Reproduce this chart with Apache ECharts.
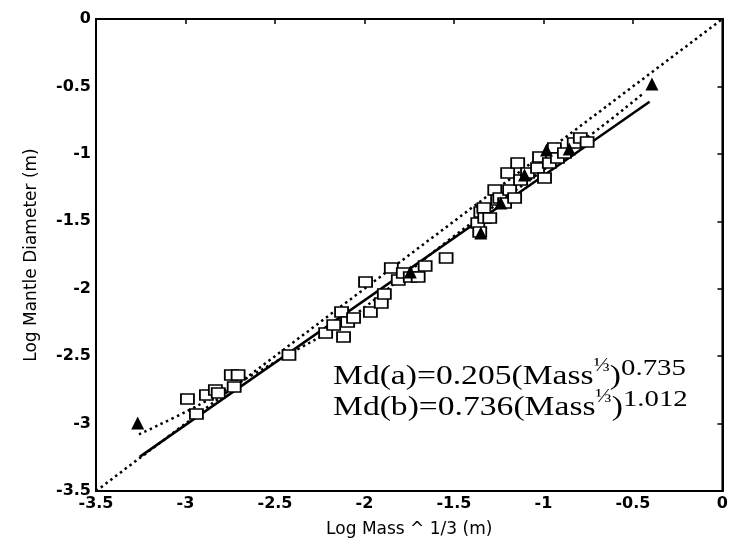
<!DOCTYPE html>
<html>
<head>
<meta charset="utf-8">
<script src="https://cdn.jsdelivr.net/npm/echarts@6/dist/echarts.min.js"></script>
<style>
  html, body { margin: 0; padding: 0; background: #fff; }
  #chart { width: 731px; height: 546px; }
</style>
</head>
<body>
<div id="chart"></div>
<script>
// Log mass^(1/3) vs log mantle diameter
const squares = [
  [-2.989, -2.818], [-2.939, -2.929], [-2.883, -2.788], [-2.833, -2.751],
  [-2.817, -2.773], [-2.744, -2.640], [-2.706, -2.640], [-2.728, -2.729],
  [-2.422, -2.491], [-2.217, -2.328], [-2.172, -2.269], [-2.117, -2.358],
  [-2.128, -2.173], [-2.094, -2.247], [-2.061, -2.217], [-1.994, -1.950],
  [-1.967, -2.173], [-1.906, -2.106], [-1.889, -2.039], [-1.850, -1.846],
  [-1.811, -1.935], [-1.783, -1.883], [-1.744, -1.913], [-1.700, -1.913],
  [-1.661, -1.831], [-1.544, -1.772], [-1.367, -1.513], [-1.356, -1.579],
  [-1.350, -1.431], [-1.333, -1.401], [-1.328, -1.476], [-1.300, -1.476],
  [-1.272, -1.268], [-1.256, -1.342], [-1.244, -1.327], [-1.217, -1.364],
  [-1.200, -1.142], [-1.189, -1.268], [-1.161, -1.327], [-1.144, -1.068],
  [-1.128, -1.194], [-1.089, -1.142], [-1.033, -1.105], [-1.022, -1.023],
  [-0.994, -1.179], [-0.967, -1.068], [-0.939, -0.957], [-0.922, -1.031],
  [-0.883, -0.994], [-0.828, -0.919], [-0.794, -0.882], [-0.756, -0.912]
];
const triangles = [
  [-3.267, -2.996], [-1.744, -1.876], [-1.350, -1.587], [-1.239, -1.364],
  [-1.106, -1.157], [-0.983, -0.971], [-0.856, -0.964], [-0.394, -0.482]
];
// curve through the (a) group
const curveA = [
  [-3.26, -3.08], [-2.978, -2.899], [-2.756, -2.736], [-2.35, -2.432],
  [-2.2, -2.321], [-2.033, -2.173], [-1.55, -1.661], [-0.7, -0.823], [-0.44, -0.549]
];
// straight fit through the (b) group
const fitB = [[-3.256, -3.247], [-0.407, -0.613]];
// 1:1 reference line
const identity = [[-3.5, -3.5], [0, 0]];

const xTicks = { min: -3.5, max: 0, interval: 0.5 };
const yTicks = { min: -3.5, max: 0, interval: 0.5 };

const chart = echarts.init(document.getElementById('chart'), null, { renderer: 'canvas' });

const sans = 'DejaVu Sans';
const tickFont = { color: '#000', fontFamily: sans, fontSize: 16, fontWeight: 'bold' };
const titleFont = { color: '#000', fontFamily: sans, fontSize: 17 };
const serif = 'Liberation Serif';
const eqRich = {
  m: { fontFamily: serif, fontSize: 28, lineHeight: 34, verticalAlign: 'bottom', color: '#000' },
  f: { fontFamily: serif, fontSize: 18, lineHeight: 24, verticalAlign: 'top', color: '#000' },
  e: { fontFamily: serif, fontSize: 24, lineHeight: 22, verticalAlign: 'top', color: '#000' }
};

chart.setOption({
  animation: false,
  backgroundColor: '#fff',
  grid: { left: 96, right: 4, top: 19, bottom: 55, show: true, borderColor: '#000', borderWidth: 2, backgroundColor: 'transparent' },
  xAxis: {
    type: 'value', min: xTicks.min, max: xTicks.max, interval: xTicks.interval,
    name: 'Log Mass ^ 1/3 (m)', nameLocation: 'middle', nameGap: 30,
    nameTextStyle: titleFont,
    axisLine: { lineStyle: { color: '#000', width: 2 } },
    axisTick: { inside: false, length: 5, lineStyle: { color: '#000', width: 1.5 } },
    axisLabel: Object.assign({ margin: 5 }, tickFont),
    splitLine: { show: false }
  },
  yAxis: {
    type: 'value', min: yTicks.min, max: yTicks.max, interval: yTicks.interval,
    name: 'Log Mantle Diameter (m)', nameLocation: 'middle', nameGap: 56,
    nameTextStyle: titleFont,
    axisLine: { lineStyle: { color: '#000', width: 2 } },
    axisTick: { inside: false, length: 5, lineStyle: { color: '#000', width: 1.5 } },
    axisLabel: Object.assign({ margin: 5 }, tickFont),
    splitLine: { show: false }
  },
  series: [
    {
      type: 'line', data: identity, symbol: 'none', silent: true, z: 2,
      lineStyle: { color: '#000', width: 2.5, type: [2.5, 3.5] }
    },
    {
      type: 'line', data: fitB, symbol: 'none', silent: true, z: 2,
      lineStyle: { color: '#000', width: 2.5, type: 'solid' }
    },
    {
      type: 'line', data: curveA, symbol: 'none', smooth: 0.4, silent: true, z: 2,
      lineStyle: { color: '#000', width: 2.5, type: [2.5, 3.5] }
    },
    {
      type: 'scatter', data: squares, symbol: 'rect', symbolSize: [13, 10], z: 3,
      itemStyle: { color: '#fff', borderColor: '#000', borderWidth: 1.6, opacity: 1 }
    },
    {
      type: 'scatter', data: triangles, symbol: 'triangle', symbolSize: 13, z: 4,
      itemStyle: { color: '#000', opacity: 1 }
    }
  ],
  graphic: [
    {
      type: 'text', x: 333, y: 357, scaleX: 1.2, z: 10,
      style: { text: '{m|Md(a)=0.205(Mass}{f|⅓}{m|)}{e|0.735}', rich: eqRich, align: 'left', verticalAlign: 'top' }
    },
    {
      type: 'text', x: 333, y: 388, scaleX: 1.2, z: 10,
      style: { text: '{m|Md(b)=0.736(Mass}{f|⅓}{m|)}{e|1.012}', rich: eqRich, align: 'left', verticalAlign: 'top' }
    }
  ]
});
</script>
</body>
</html>
